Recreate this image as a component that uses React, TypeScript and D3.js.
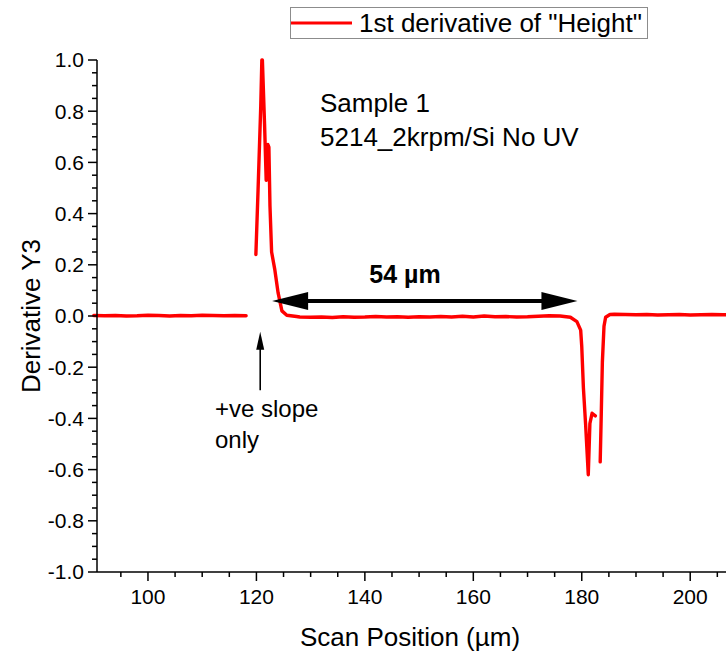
import React from "react";
import * as d3 from "d3";

// ---- data ----
const seriesName = '1st derivative of "Height"';
// scan position (µm) and derivative; null marks a gap in the data
const scanX: number[] = [
  90, 92, 94, 96, 98, 100, 102, 104, 106, 108, 110, 112, 114, 116, 118.1,
  118.9,
  119.9, 120.3, 120.8, 121.0, 121.1, 121.5, 121.8, 122.1, 122.3, 122.5, 122.8, 123.4, 124.0, 124.7, 125.6, 127.4,
  128, 130, 132, 134, 136, 138, 140, 142, 144, 146, 148, 150, 152, 154, 156, 158, 160, 162, 164, 166, 168, 170, 172, 174, 176,
  177.9, 179.1, 179.8, 180.0, 180.3, 180.7, 181.0, 181.2, 181.5, 181.9, 182.5,
  183.0,
  183.4, 183.6, 183.8, 184.1, 184.4, 185.2, 186, 188, 190, 192, 194, 196, 198, 200, 202, 204, 206, 206.8,
];
const derivY: (number | null)[] = [
  0.002, 0.001, 0.002, 0.0, 0.001, 0.003, 0.002, 0.0, 0.002, 0.001, 0.003, 0.002, 0.001, 0.002, 0.001,
  null,
  0.24, 0.49, 0.82, 1.0, 1.0, 0.75, 0.53, 0.67, 0.66, 0.43, 0.25, 0.18, 0.09, 0.02, 0.003, -0.002,
  -0.004, -0.005, -0.004, -0.006, -0.003, -0.005, -0.004, -0.002, -0.004, -0.003, -0.005, -0.003, -0.004, -0.002, -0.004, -0.001, -0.004, 0.0, -0.003, -0.002, -0.004, -0.003, -0.001, 0.001, 0.0,
  -0.005, -0.022, -0.055, -0.12, -0.28, -0.42, -0.54, -0.62, -0.42, -0.38, -0.39,
  null,
  -0.57, -0.38, -0.18, -0.04, -0.005, 0.006, 0.007, 0.006, 0.005, 0.006, 0.004, 0.005, 0.006, 0.004, 0.005, 0.006, 0.005, 0.005,
];
const xTicks = [100, 120, 140, 160, 180, 200];
const yTicks = [-1.0, -0.8, -0.6, -0.4, -0.2, 0.0, 0.2, 0.4, 0.6, 0.8, 1.0];
const xTitle = "Scan Position (µm)";
const yTitle = "Derivative Y3";
const sampleLines = ["Sample 1", "5214_2krpm/Si No UV"];
const spanLabel = "54 µm";
const spanLabelX = 147.4;
const spanFrom = 122.9;
const spanTo = 179.2;
const spanY = 0.059;
const slopeNote = ["+ve slope", "only"];
const slopeArrowX = 120.7;
const slopeArrowTip = -0.062;
const slopeArrowTail = -0.29;

const W = 726;
const H = 656;
const FONT = "'Liberation Sans', Arial, sans-serif";

export default function App() {
  const x = d3.scaleLinear().domain([90.6, 206.6]).range([97, 726]);
  const y = d3.scaleLinear().domain([-1, 1]).range([572, 60]);
  const pts = scanX.map((v, i) => [v, derivY[i]] as [number, number | null]);
  const line = d3
    .line<[number, number | null]>()
    .defined((d) => d[1] !== null)
    .x((d) => x(d[0]))
    .y((d) => y(d[1] as number))
    .curve(d3.curveLinear);

  const xMinor = d3.range(95, 207, 5).filter((v) => v % 20 !== 0);
  const yMinor = d3.range(-1, 1.0001, 0.05).filter((v) => Math.abs(Math.round(v * 100) % 20) !== 0);

  const ax = 97;
  const ay = 572;

  const sx0 = x(spanFrom);
  const sx1 = x(spanTo);
  const sy = y(spanY);
  const headL = 36;
  const headH = 9;

  const vx = x(slopeArrowX);
  const vTip = y(slopeArrowTip);
  const vTail = y(slopeArrowTail);

  return (
    <div style={{ position: "absolute", left: 0, top: 0 }}>
      <svg width={W} height={H} style={{ display: "block", background: "#fff" }} fontFamily={FONT}>
        <rect x={0} y={0} width={W} height={H} fill="#fff" />
        {/* legend */}
        <rect x={290.5} y={7.5} width={357} height={31} fill="#fff" stroke="#8c8c8c" strokeWidth={1} />
        <line x1={291} x2={352} y1={23} y2={23} stroke="#ff0000" strokeWidth={3} />
        <text x={359} y={32} fontSize={26} fill="#000">{seriesName}</text>

        {/* data line */}
        <path d={line(pts) || ""} fill="none" stroke="#ff0000" strokeWidth={3.4} strokeLinejoin="round" strokeLinecap="round" />

        {/* axes */}
        <line x1={ax} x2={ax} y1={y(1)} y2={ay} stroke="#000" strokeWidth={1.5} />
        <line x1={ax} x2={W} y1={ay} y2={ay} stroke="#000" strokeWidth={1.5} />
        {yTicks.map((t) => (
          <g key={"y" + t}>
            <line x1={ax - 9} x2={ax} y1={y(t)} y2={y(t)} stroke="#000" strokeWidth={1.5} />
            <text x={ax - 13} y={y(t)} dy="0.35em" textAnchor="end" fontSize={21} fill="#000">
              {t.toFixed(1)}
            </text>
          </g>
        ))}
        {yMinor.map((t, i) => (
          <line key={"ym" + i} x1={ax - 5} x2={ax} y1={y(t)} y2={y(t)} stroke="#000" strokeWidth={1.5} />
        ))}
        {xTicks.map((t) => (
          <g key={"x" + t}>
            <line x1={x(t)} x2={x(t)} y1={ay} y2={ay + 9} stroke="#000" strokeWidth={1.5} />
            <text x={x(t)} y={ay + 32} textAnchor="middle" fontSize={21} fill="#000">
              {t}
            </text>
          </g>
        ))}
        {xMinor.map((t) => (
          <line key={"xm" + t} x1={x(t)} x2={x(t)} y1={ay} y2={ay + 5} stroke="#000" strokeWidth={1.5} />
        ))}

        {/* axis titles */}
        <text x={410} y={646} textAnchor="middle" fontSize={26} fill="#000">{xTitle}</text>
        <text transform={`translate(40,316) rotate(-90)`} textAnchor="middle" fontSize={26} fill="#000">{yTitle}</text>

        {/* annotations */}
        <text x={320} y={112} fontSize={26} fill="#000">{sampleLines[0]}</text>
        <text x={320} y={146} fontSize={26} fill="#000">{sampleLines[1]}</text>

        <text x={x(spanLabelX)} y={sy - 18} textAnchor="middle" fontSize={25} fontWeight="bold" fill="#000">
          {spanLabel}
        </text>
        <line x1={sx0 + headL - 2} x2={sx1 - headL + 2} y1={sy} y2={sy} stroke="#000" strokeWidth={4} />
        <path d={`M${sx0},${sy} L${sx0 + headL},${sy - headH} L${sx0 + headL},${sy + headH} Z`} fill="#000" />
        <path d={`M${sx1},${sy} L${sx1 - headL},${sy - headH} L${sx1 - headL},${sy + headH} Z`} fill="#000" />

        <line x1={vx} x2={vx} y1={vTip + 16} y2={vTail} stroke="#000" strokeWidth={1.6} />
        <path d={`M${vx},${vTip} L${vx - 4},${vTip + 18} L${vx + 4},${vTip + 18} Z`} fill="#000" />
        <text x={215} y={417} fontSize={24} fill="#000">{slopeNote[0]}</text>
        <text x={215} y={448} fontSize={24} fill="#000">{slopeNote[1]}</text>
      </svg>
    </div>
  );
}
